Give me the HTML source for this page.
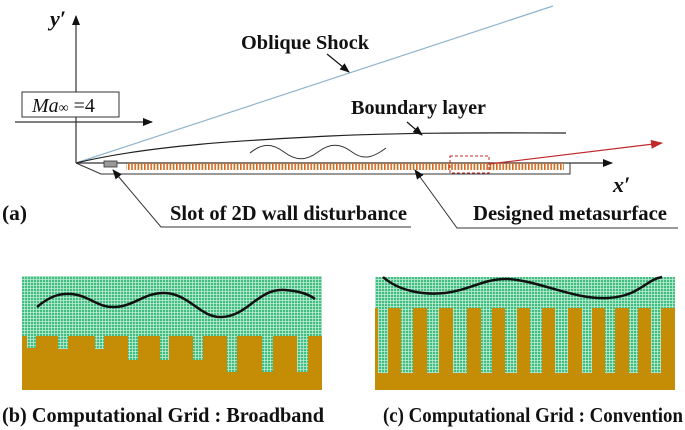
<!DOCTYPE html>
<html><head><meta charset="utf-8"><style>
html,body{margin:0;padding:0;background:#fff;}
svg{display:block;}
text{font-family:"Liberation Serif",serif;font-weight:bold;fill:#111;}
</style></head><body>
<svg width="685" height="430" viewBox="0 0 685 430" xmlns="http://www.w3.org/2000/svg">
<defs>
<pattern id="g" width="3" height="3" patternUnits="userSpaceOnUse">
<rect width="3" height="3" fill="#3fbf7f"/>
<rect width="3" height="0.8" fill="#bfe9d2"/>
<rect width="0.8" height="3" fill="#bfe9d2"/>
</pattern>
<marker id="ah" markerWidth="10" markerHeight="8" refX="9" refY="4" orient="auto" markerUnits="userSpaceOnUse"><path d="M0,0 L10,4 L0,8 Z" fill="#111"/></marker>
<marker id="ar" markerWidth="12" markerHeight="9" refX="11" refY="4.5" orient="auto" markerUnits="userSpaceOnUse"><path d="M0,0 L12,4.5 L0,9 Z" fill="#c0282a"/></marker>
<pattern id="d" width="3.2" height="8" patternUnits="userSpaceOnUse"><rect width="1.6" height="8" fill="#d2691e"/></pattern>
</defs>
<line x1="76" y1="163" x2="76" y2="16" stroke="#333" stroke-width="1.2" marker-end="url(#ah)"/>
<text x="50" y="26" font-size="22" font-style="italic">y′</text>
<line x1="76" y1="163" x2="612" y2="163" stroke="#333" stroke-width="1.2" marker-end="url(#ah)"/>
<text x="613" y="192" font-size="22" font-style="italic">x′</text>
<rect x="22" y="92" width="97" height="25" fill="#fff" stroke="#333" stroke-width="1"/>
<text x="32" y="112" font-size="20" style="font-weight:normal"><tspan font-style="italic">Ma</tspan><tspan font-size="14">∞</tspan> =4</text>
<line x1="15" y1="122" x2="152" y2="122" stroke="#333" stroke-width="1.2" marker-end="url(#ah)"/>
<line x1="76" y1="163" x2="553" y2="6" stroke="#8fb4cc" stroke-width="1.2"/>
<text x="241" y="49" font-size="20" textLength="128" lengthAdjust="spacingAndGlyphs">Oblique Shock</text>
<line x1="327" y1="54" x2="349" y2="72" stroke="#111" stroke-width="1.2" marker-end="url(#ah)"/>
<path d="M76,163 C150,145 250,140 330,136 C420,132 500,133 566,133" fill="none" stroke="#222" stroke-width="1.2"/>
<text x="351" y="114" font-size="20" textLength="135" lengthAdjust="spacingAndGlyphs">Boundary layer</text>
<line x1="407" y1="122" x2="422" y2="135" stroke="#111" stroke-width="1.2" marker-end="url(#ah)"/>
<path d="M250,153 C262,143 272,143 284,152 C296,161 306,161 318,152 C330,143 340,143 352,152 C364,161 374,157 386,148" fill="none" stroke="#333" stroke-width="1"/>
<path d="M76,163 L101,174 L570,174 L570,163" fill="none" stroke="#333" stroke-width="1"/>
<rect x="126" y="163" width="438" height="7" fill="url(#d)"/>
<rect x="104" y="161" width="13" height="6" fill="#9a9a9a" stroke="#333" stroke-width="0.8"/>
<rect x="450" y="156" width="39" height="17" fill="none" stroke="#c0282a" stroke-width="1" stroke-dasharray="3,2"/>
<line x1="489" y1="164" x2="662" y2="143" stroke="#c0282a" stroke-width="1.2" marker-end="url(#ar)"/>
<text x="2" y="220" font-size="21" textLength="25" lengthAdjust="spacingAndGlyphs">(a)</text>
<text x="170" y="220" font-size="21" textLength="237" lengthAdjust="spacingAndGlyphs">Slot of 2D wall disturbance</text>
<polyline points="411,227 161,227 113,170" fill="none" stroke="#333" stroke-width="1" marker-end="url(#ah)"/>
<text x="473" y="220" font-size="21" textLength="194" lengthAdjust="spacingAndGlyphs">Designed  metasurface</text>
<polyline points="678,228 457,228 415,170" fill="none" stroke="#333" stroke-width="1" marker-end="url(#ah)"/>
<rect x="22" y="276" width="300" height="114" fill="url(#g)"/>
<path d="M22,336 L27,336 L27,348 L36,348 L36,336 L58,336 L58,349 L68,349 L68,336 L95,336 L95,349 L104,349 L104,336 L128,336 L128,360 L138,360 L138,336 L160,336 L160,360 L169,360 L169,336 L193,336 L193,360 L203,360 L203,336 L227,336 L227,372 L237,372 L237,336 L262,336 L262,372 L273,372 L273,336 L297,336 L297,372 L308,372 L308,336 L322,336 L322,390 L22,390 Z" fill="#c48d05"/>
<path d="M37,307 C50,296 60,293 72,294 C90,296 98,308 115,307 C135,306 145,292 165,293 C190,294 200,318 222,317 C248,316 258,288 285,290 C300,291 310,295 315,299" fill="none" stroke="#111" stroke-width="2.5"/>
<text x="2" y="422" font-size="21" textLength="322" lengthAdjust="spacingAndGlyphs">(b)  Computational Grid : Broadband</text>
<rect x="375" y="277" width="300" height="113" fill="url(#g)"/>
<g fill="#c48d05">
<rect x="375" y="308" width="3" height="82"/>
<rect x="388" y="308" width="13" height="82"/>
<rect x="413" y="308" width="14" height="82"/>
<rect x="439" y="308" width="14" height="82"/>
<rect x="467" y="308" width="14" height="82"/>
<rect x="492" y="308" width="13" height="82"/>
<rect x="517" y="308" width="13" height="82"/>
<rect x="542" y="308" width="13" height="82"/>
<rect x="568" y="308" width="14" height="82"/>
<rect x="592" y="308" width="13" height="82"/>
<rect x="615" y="308" width="14" height="82"/>
<rect x="638" y="308" width="13" height="82"/>
<rect x="661" y="308" width="14" height="82"/>
<rect x="375" y="373" width="300" height="17"/>
</g>
<path d="M383,277 C400,292 425,295 445,293 C470,290 485,278 508,279 C540,281 575,300 608,298 C640,296 645,280 662,277" fill="none" stroke="#111" stroke-width="2.5"/>
<text x="383" y="422" font-size="21" textLength="300" lengthAdjust="spacingAndGlyphs">(c)  Computational Grid : Convention</text>
</svg>
</body></html>
